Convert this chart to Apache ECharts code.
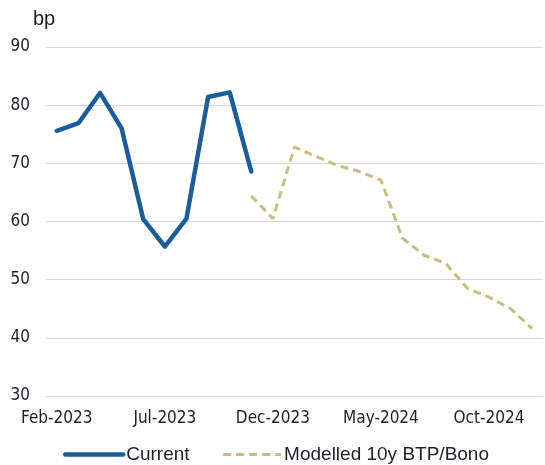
<!DOCTYPE html>
<html>
<head>
<meta charset="utf-8">
<script src="https://cdn.jsdelivr.net/npm/echarts@6/dist/echarts.min.js"></script>
<style>
  html, body { margin: 0; padding: 0; background: #fff; }
  #chart { width: 545px; height: 465px; }
</style>
</head>
<body>
<div id="chart"></div>
<script>
// Monthly categories, Feb-2023 to Dec-2024
const months = [
  'Feb-2023','Mar-2023','Apr-2023','May-2023','Jun-2023','Jul-2023','Aug-2023',
  'Sep-2023','Oct-2023','Nov-2023','Dec-2023','Jan-2024','Feb-2024','Mar-2024',
  'Apr-2024','May-2024','Jun-2024','Jul-2024','Aug-2024','Sep-2024','Oct-2024',
  'Nov-2024','Dec-2024'
];

// Current spread (bp)
const current = [75.6, 76.9, 82.1, 76.0, 60.4, 55.7, 60.5, 81.4, 82.2, 68.6,
  null, null, null, null, null, null, null, null, null, null, null, null, null];

// Modelled 10y BTP/Bono spread (bp)
const modelled = [null, null, null, null, null, null, null, null, null, 64.4,
  60.5, 72.8, 71.2, 69.6, 68.6, 67.1, 57.1, 54.2, 52.8, 48.5, 47.0, 45.0, 41.6];

const yTicks = { min: 30, max: 90, step: 10 };

const chart = echarts.init(document.getElementById('chart'));
const narrow = '"DejaVu Sans Condensed", "Liberation Sans Narrow", sans-serif';
const regular = '"Liberation Sans", Arial, sans-serif';
const ink = '#1e1e2a';
const blue = '#1a5c9e';
const gold = '#cbbc80';

chart.setOption({
  animation: false,
  grid: { left: 46, right: 2, top: 47, bottom: 69 },
  title: {
    text: 'bp', left: 28, top: 4,
    textStyle: { fontFamily: regular, fontSize: 20, fontWeight: 'normal', color: ink }
  },
  legend: {
    top: 440, left: 58, itemGap: 32, itemWidth: 58, itemHeight: 12,
    itemStyle: { opacity: 0 },
    textStyle: { fontFamily: regular, fontSize: 19, color: ink, padding: [0, 0, 0, -2] },
    data: [
      { name: 'Current', lineStyle: { width: 4.5, color: blue } },
      { name: 'Modelled 10y BTP/Bono', lineStyle: { width: 3, color: gold, type: [8, 5] } }
    ]
  },
  xAxis: {
    type: 'category',
    data: months,
    boundaryGap: true,
    axisLine: { show: false },
    axisTick: { show: false },
    axisLabel: {
      interval: 4, fontFamily: narrow, fontSize: 17, color: ink, margin: 14
    }
  },
  yAxis: {
    type: 'value',
    min: yTicks.min, max: yTicks.max, interval: yTicks.step,
    axisLine: { show: false },
    axisTick: { show: false },
    axisLabel: { fontFamily: narrow, fontSize: 17, color: ink, margin: 16 },
    splitLine: { lineStyle: { color: '#d9d9d9', width: 1 } }
  },
  series: [
    {
      name: 'Current', type: 'line', data: current,
      showSymbol: false, symbol: 'none', connectNulls: false,
      lineStyle: { color: blue, width: 4.5, cap: 'round', join: 'round' },
      itemStyle: { color: blue }
    },
    {
      name: 'Modelled 10y BTP/Bono', type: 'line', data: modelled,
      showSymbol: false, symbol: 'none', connectNulls: false,
      lineStyle: { color: gold, width: 3, type: [8, 5] },
      itemStyle: { color: gold }
    }
  ]
});
</script>
</body>
</html>
